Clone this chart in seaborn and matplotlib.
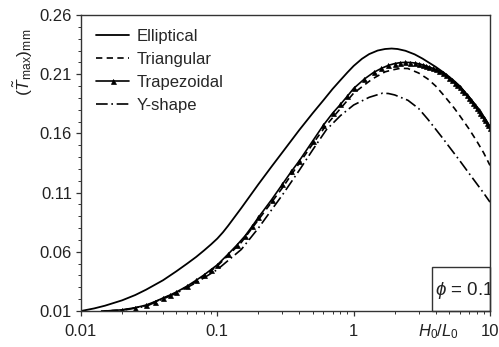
import numpy as np
import pandas as pd
import matplotlib
matplotlib.use('Agg')
import matplotlib.pyplot as plt
import seaborn as sns
from matplotlib.ticker import FixedLocator, FixedFormatter, MultipleLocator, LogLocator, NullFormatter
from matplotlib.patches import Rectangle

# ---------------- data ----------------
ell_x = [0.01, 0.0125, 0.015, 0.02, 0.025, 0.03, 0.04, 0.05, 0.06, 0.07, 0.08, 0.09, 0.1, 0.11,
         0.12, 0.15, 0.2, 0.25, 0.3, 0.4, 0.5, 0.6, 0.7, 0.8, 0.9, 1.0, 1.15, 1.3, 1.5, 1.7, 1.9,
         2.1, 2.4, 2.8, 3.2, 3.6, 4.0, 4.5, 5.0, 5.5, 6.0, 7.0, 8.0, 9.0, 10.0]
ell_y = [0.0100, 0.0122, 0.0145, 0.0190, 0.0235, 0.0280, 0.0360, 0.0435, 0.0500, 0.0557, 0.0612,
         0.0663, 0.0712, 0.0765, 0.0820, 0.0970, 0.1170, 0.1320, 0.1440, 0.1630, 0.1770, 0.1880,
         0.1975, 0.2050, 0.2115, 0.2170, 0.2230, 0.2270, 0.2300, 0.2313, 0.2317, 0.2313, 0.2298,
         0.2268, 0.2232, 0.2195, 0.2162, 0.2120, 0.2080, 0.2040, 0.2000, 0.1910, 0.1820, 0.1735,
         0.1650]

tri_x = [0.014, 0.02, 0.03, 0.05, 0.07, 0.1, 0.15, 0.2, 0.3, 0.4, 0.5, 0.63, 0.8, 1.0, 1.37, 1.7,
         1.9, 2.2, 2.5, 3.0, 3.5, 4.0, 4.6, 5.5, 6.0, 7.0, 8.0, 9.0, 10.0]
tri_y = [0.0100, 0.0107, 0.0145, 0.0255, 0.0350, 0.0480, 0.0680, 0.0870, 0.1140, 0.1350, 0.1510,
         0.1670, 0.1810, 0.1940, 0.2060, 0.2120, 0.2135, 0.2150, 0.2148, 0.2110, 0.2060, 0.2000,
         0.1920, 0.1810, 0.1750, 0.1640, 0.1535, 0.1435, 0.1330]

trap_x = [0.015, 0.02, 0.025, 0.03, 0.035, 0.04, 0.045, 0.05, 0.06, 0.07, 0.08, 0.09, 0.1,
          0.12, 0.14, 0.16, 0.18, 0.2, 0.25, 0.3, 0.35, 0.4, 0.5, 0.6, 0.7, 0.8, 0.9, 1.0,
          1.2, 1.4, 1.6, 1.8, 2.0, 2.2, 2.4, 2.6, 2.8, 3.0, 3.2, 3.4, 3.6, 3.8, 4.0, 4.25, 4.5,
          4.75, 5.0, 5.25, 5.5, 5.75, 6.0, 6.25, 6.5, 6.75, 7.0, 7.25, 7.5, 7.75, 8.0, 8.25, 8.5,
          8.75, 9.0, 9.25, 9.5, 9.75, 10.0]
trap_y = [0.0100, 0.0110, 0.0128, 0.0150, 0.0180, 0.0210, 0.0235, 0.0260, 0.0310, 0.0360, 0.0405,
          0.0450, 0.0490, 0.0580, 0.0660, 0.0735, 0.0815, 0.0890, 0.1040, 0.1170, 0.1280, 0.1370,
          0.1535, 0.1670, 0.1770, 0.1845, 0.1915, 0.1980, 0.2060, 0.2115, 0.2150, 0.2175, 0.2190,
          0.2198, 0.2200, 0.2199, 0.2195, 0.2188, 0.2180, 0.2170, 0.2160, 0.2150, 0.2140, 0.2125,
          0.2110, 0.2090, 0.2070, 0.2050, 0.2030, 0.2010, 0.1990, 0.1970, 0.1950, 0.1925, 0.1900,
          0.1880, 0.1860, 0.1840, 0.1815, 0.1795, 0.1775, 0.1755, 0.1730, 0.1710, 0.1690, 0.1670,
          0.1650]

ysh_x = [0.015, 0.02, 0.03, 0.05, 0.07, 0.1, 0.15, 0.2, 0.3, 0.4, 0.5, 0.63, 0.8, 1.0, 1.3, 1.63,
         1.8, 2.0, 2.5, 3.0, 3.5, 4.0, 4.5, 5.0, 6.0, 7.0, 8.0, 9.0, 10.0]
ysh_y = [0.0100, 0.0105, 0.0140, 0.0250, 0.0340, 0.0450, 0.0620, 0.0800, 0.1080, 0.1290, 0.1460,
         0.1630, 0.1750, 0.1840, 0.1905, 0.1940, 0.1937, 0.1925, 0.1880, 0.1810, 0.1720, 0.1635,
         0.1560, 0.1490, 0.1370, 0.1265, 0.1175, 0.1095, 0.1020]

labels = ['Elliptical', 'Triangular', 'Trapezoidal', 'Y-shape']
y_ticks = [0.01, 0.06, 0.11, 0.16, 0.21, 0.26]
y_ticklabels = ['0.01', '0.06', '0.11', '0.16', '0.21', '0.26']
x_ticks = [0.01, 0.1, 1, 10]
x_ticklabels = ['0.01', '0.1', '1', '10']

# ---------------- style ----------------
sns.set_theme(style='ticks')
plt.rcParams['font.family'] = ['Liberation Sans', 'DejaVu Sans']
plt.rcParams['mathtext.fontset'] = 'custom'
plt.rcParams['mathtext.rm'] = 'Liberation Sans'
plt.rcParams['mathtext.it'] = 'Liberation Sans:italic'
plt.rcParams['mathtext.bf'] = 'Liberation Sans:bold'

fig = plt.figure(figsize=(4.99, 3.47), dpi=100)
ax = fig.add_axes([0.1623, 0.1037, 0.8196, 0.853])

lw = 1.2
sns.lineplot(x=ell_x, y=ell_y, ax=ax, color='black', lw=1.3, label=labels[0])
sns.lineplot(x=tri_x, y=tri_y, ax=ax, color='black', lw=lw, label=labels[1])
ax.lines[-1].set_dashes((3.8, 2.6))
sns.lineplot(x=trap_x, y=trap_y, ax=ax, color='black', lw=lw, label=labels[2],
             marker='^', markersize=3.6, markerfacecolor='black', markeredgecolor='black',
             markeredgewidth=0.5, markevery=slice(1, None))
sns.lineplot(x=ysh_x, y=ysh_y, ax=ax, color='black', lw=lw, label=labels[3])
ax.lines[-1].set_dashes((7, 2.2, 1, 2.2))

ax.set_xscale('log')
ax.set_xlim(0.01, 10)
ax.set_ylim(0.01, 0.26)

ax.xaxis.set_major_locator(FixedLocator(x_ticks))
ax.xaxis.set_major_formatter(FixedFormatter(x_ticklabels))
ax.xaxis.set_minor_locator(LogLocator(base=10, subs=np.arange(2, 10)))
ax.xaxis.set_minor_formatter(NullFormatter())
ax.yaxis.set_major_locator(FixedLocator(y_ticks))
ax.yaxis.set_major_formatter(FixedFormatter(y_ticklabels))
ax.yaxis.set_minor_locator(MultipleLocator(0.01))

ax.tick_params(axis='both', which='major', labelsize=12, length=3.5, width=0.9,
               color='#333333', labelcolor='#222222', direction='out')
ax.tick_params(axis='x', which='major', pad=6)
ax.tick_params(axis='y', which='major', pad=3)
ax.tick_params(axis='both', which='minor', length=2.2, width=0.7, color='#333333',
               direction='out')

for sp in ax.spines.values():
    sp.set_visible(True)
    sp.set_color('#333333')
    sp.set_linewidth(1.0)

ax.set_xlabel('')
ax.set_ylabel(r'$(\tilde{T}_{\mathrm{max}})_{\mathrm{mm}}$', fontsize=12.5, color='#222222')
ax.yaxis.set_label_coords(-0.112, 0.84)
ax.text(0.873, -0.071, r'$H_0/L_0$', transform=ax.transAxes, fontsize=12,
        ha='center', va='center', color='#222222')

leg = ax.legend(loc='upper left', bbox_to_anchor=(0.0, 1.005), frameon=False, fontsize=12,
                handlelength=2.0, handletextpad=0.42, labelspacing=0.48)

rect = Rectangle((0.858, 0.0), 0.142, 0.149, transform=ax.transAxes, fill=False,
                 edgecolor='#333333', lw=1.0, clip_on=False)
ax.add_patch(rect)
ax.text(0.865, 0.071, r'$\phi$ = 0.1', transform=ax.transAxes, fontsize=13.5,
        ha='left', va='center', color='#222222', clip_on=True)

fig.savefig('out.png', dpi=100)
